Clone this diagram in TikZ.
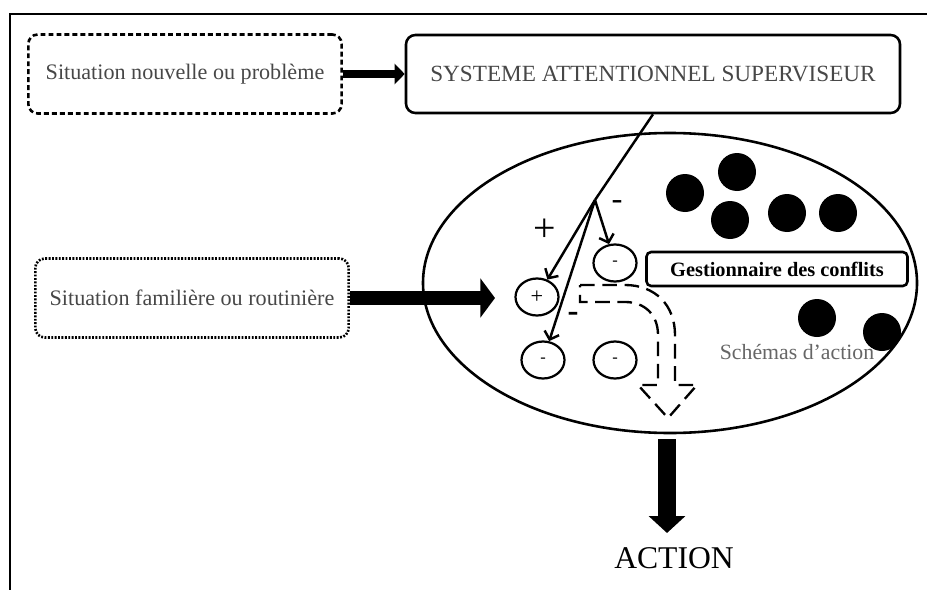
\documentclass[tikz,border=0pt]{standalone}
\usepackage{fontspec}
\setmainfont{Liberation Serif}
\usetikzlibrary{arrows.meta,shapes}
\newcommand{\boxlw}{2.2pt}
\newcommand{\dotsz}{1.14cm}

\begin{document}
\begin{tikzpicture}[x=0.03cm,y=-0.03cm]
            \tikzset{
              sitbox/.style = {draw, line width=\boxlw, rounded corners=8pt, text=black!72,
                               minimum width=9.4cm, minimum height=2.37cm,
                               font=\fontsize{18.9pt}{20pt}\selectfont},
              sign/.style = {draw, ellipse, line width=1.9pt, inner sep=0pt,
                             minimum width=1.29cm, minimum height=1.11cm},
              schema/.style = {circle, fill=black, minimum size=\dotsz, inner sep=0pt},
              link/.style = {line width=2.1pt, -{Straight Barb[length=6pt,width=13pt]}},
              bigarrow/.style = {line width=#1, -{Triangle[length=12.5pt,width=33pt]}},
            }
            \useasboundingbox (0,0) rectangle (927,590);
            \draw[line width=2pt] (10,590) -- (10,14) -- (927,14);

            % boxes on the left and the supervisor
            \node[sitbox, dash pattern=on 4.2pt off 2.6pt] (nouv) at (185,74) {Situation nouvelle ou problème};
            \node[sitbox, minimum width=14.82cm, minimum height=2.34cm,
                  font=\fontsize{19.8pt}{20pt}\selectfont] (sas) at (653,74) {SYSTEME ATTENTIONNEL SUPERVISEUR};
            \node[sitbox, dash pattern=on 1.6pt off 1.3pt] (fam) at (192,298) {Situation familière ou routinière};

            % the big ellipse
            \node[draw, ellipse, line width=\boxlw, minimum width=14.82cm, minimum height=9cm] (memo) at (670,283) {};

            % schemas
            \node[schema] (s1) at (685,193) {};
            \node[schema] (s2) at (737,172) {};
            \node[schema] (s3) at (730,220) {};
            \node[schema] (s4) at (787,213) {};
            \node[schema] (s5) at (838,213) {};
            \node[schema] (s6) at (817,318) {};
            \node[schema] (s7) at (882,332) {};

            \node[draw, line width=\boxlw, rounded corners=4pt, minimum width=7.83cm, minimum height=1.02cm,
                  font=\bfseries\fontsize{17.4pt}{18pt}\selectfont] (gest) at (777,269) {Gestionnaire des conflits};
            \node[text=black!60, font=\fontsize{18.6pt}{19pt}\selectfont] (schemas) at (797,352) {Schémas d’action};

            \node[sign, font=\fontsize{19pt}{19pt}\selectfont] (plus) at (537,297) {+};
            \node[sign, font=\fontsize{14pt}{14pt}\selectfont] (m1) at (615,263) {-};
            \node[sign, font=\fontsize{14pt}{14pt}\selectfont] (m2) at (543,360) {-};
            \node[sign, font=\fontsize{14pt}{14pt}\selectfont] (m3) at (615,360) {-};

            % activation / inhibition
            \coordinate (branch) at (595,200);
            \draw[line width=2.1pt] (sas.south) -- (branch);
            \draw[link] (branch) -- (plus);
            \draw[link] (branch) -- (m1);
            \draw[link] (branch) -- (m2);
            \node[font=\fontsize{34pt}{34pt}\selectfont] (pluslab) at (545,230) {+};
            \node[font=\fontsize{28pt}{28pt}\selectfont] (minlab) at (617,205) {-};
            \node[font=\bfseries\fontsize{28pt}{28pt}\selectfont] (minlab2) at (573,317) {-};

            % hollow dashed arrow
            \draw[line width=2pt, dash pattern=on 12.5pt off 6.5pt]
              (580,285) -- (625,285) .. controls (655,285) and (675,305) .. (675,335)
              -- (675,385) -- (697,385) -- (668,418) -- (638,385) -- (658,385) -- (658,335)
              .. controls (658,315) and (645,302) .. (625,302) -- (580,302) -- cycle;

            % thick arrows
            \draw[line width=6.8pt, -{Triangle[length=8.5pt,width=17pt]}] (nouv.east) -- (sas.west);
            \coordinate (famtip) at (495,298);
            \draw[bigarrow=12.75pt] (fam.east) -- (famtip);
            \coordinate (acttop) at (667,439);
            \coordinate (acttip) at (667,533);
            \draw[line width=16pt, -{Triangle[length=14.5pt,width=30.6pt]}] (acttop) -- (acttip);
            \node[font=\fontsize{27pt}{27pt}\selectfont] (action) at (674,558) {ACTION};
        \end{tikzpicture}
\end{document}
